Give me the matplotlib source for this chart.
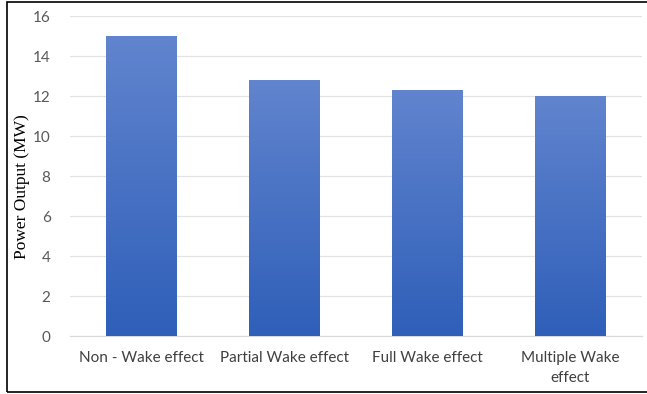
import matplotlib.pyplot as plt
import numpy as np
from matplotlib.colors import LinearSegmentedColormap
from matplotlib.patches import Rectangle

categories = ["Non - Wake effect", "Partial Wake effect", "Full Wake effect", "Multiple Wake\neffect"]
power_mw = [15.0, 12.8, 12.3, 12.0]
y_ticks = [0, 2, 4, 6, 8, 10, 12, 14, 16]

fig = plt.figure(figsize=(6.47, 3.94), dpi=100)
ax = fig.add_axes([70 / 647, 1 - 336 / 394, 572 / 647, 320 / 394])

x = np.arange(len(categories))
bars = ax.bar(x, power_mw, width=0.49, color="#4472c4", edgecolor="none", zorder=2)

# vertical gradient fill, lighter at the top
grad = LinearSegmentedColormap.from_list("bluegrad", ["#2f5fb9", "#6184ce"])
for b in bars:
    x0, w, h = b.get_x(), b.get_width(), b.get_height()
    img = ax.imshow(np.linspace(0, 1, 256).reshape(-1, 1), cmap=grad, origin="lower",
                    extent=[x0, x0 + w, 0, h], aspect="auto", zorder=3)
    img.set_clip_path(b)

ax.set_xlim(-0.5, len(categories) - 0.5)
ax.set_ylim(0, 16)
ax.set_yticks(y_ticks)
ax.set_xticks(x)
ax.set_xticklabels(categories, fontsize=11, color="#404040", family="Lato", linespacing=1.5)
ax.tick_params(axis="y", labelsize=11, labelcolor="#595959", length=0, pad=14)
ax.tick_params(axis="x", length=0, pad=11)
for lbl in ax.get_yticklabels():
    lbl.set_family("Lato")

ax.grid(axis="y", color="#e3e3e3", linewidth=0.9, zorder=0)
for side in ["top", "right", "left"]:
    ax.spines[side].set_visible(False)
ax.spines["bottom"].set_color("#d9d9d9")

fig.text(22 / 647, 1 - 187 / 394, "Power Output (MW)", rotation=90, ha="center", va="center",
         fontsize=12.5, family="Liberation Serif", color="#000000")

# outer frame
fig.patches.append(Rectangle((7 / 647, 1 - 392 / 394), 0.999, 390 / 394, transform=fig.transFigure,
                             fill=False, edgecolor="black", linewidth=1.2))

fig.savefig("out.png", dpi=100)
